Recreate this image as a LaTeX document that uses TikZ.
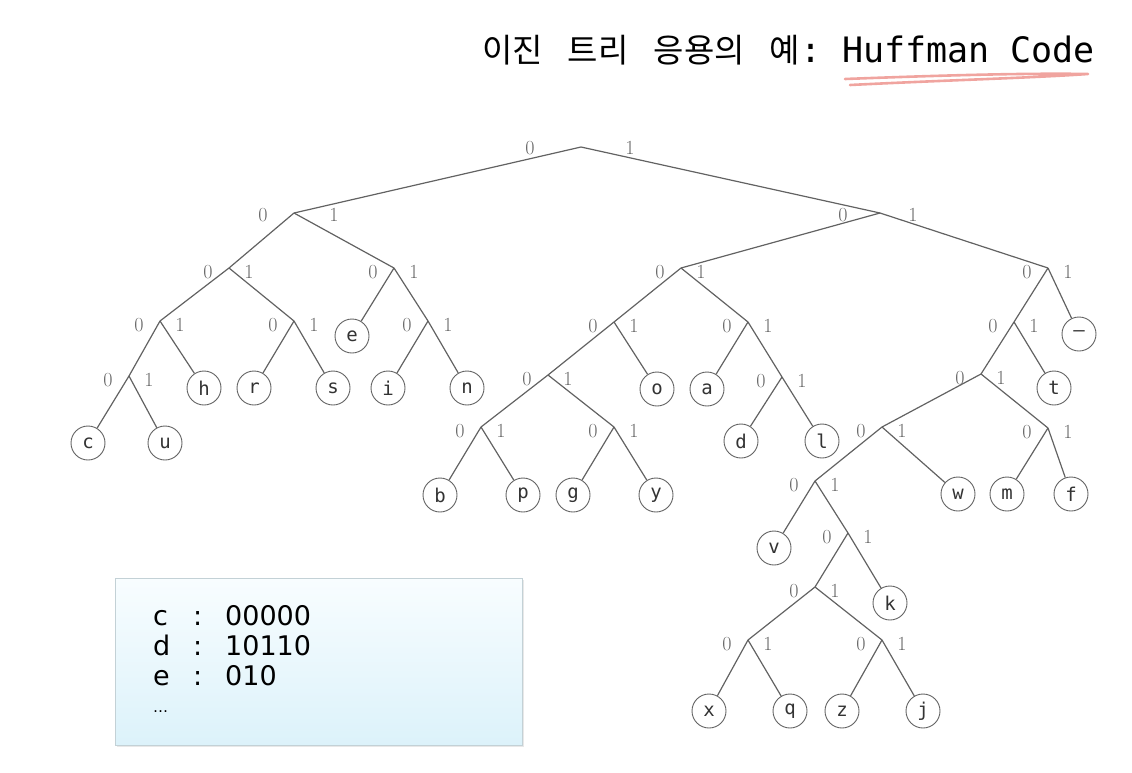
\documentclass[tikz,border=0pt]{standalone}
\usepackage{fontspec}
\setmonofont{DejaVu Sans Mono}
\newfontfamily\korfont{Noto Sans CJK KR}
\newfontfamily\boxfont{DejaVu Sans}
\usetikzlibrary{shadows}

\definecolor{edgegray}{HTML}{626262}
\definecolor{bitgray}{HTML}{666666}
\definecolor{boxtop}{HTML}{F8FDFF}
\definecolor{boxbottom}{HTML}{DCF2FA}
\definecolor{boxline}{HTML}{C3D1D6}
\definecolor{penpink}{HTML}{F0A49F}

\tikzset{
  leaf/.style={circle, draw=edgegray, line width=0.9pt, minimum size=34pt,
    inner sep=0pt, text=black!80, font=\ttfamily\fontsize{19}{19}\selectfont},
  edge/.style={draw=edgegray, line width=1.2pt},
  bit/.style={text=bitgray, inner sep=0pt, font=\fontsize{20}{20}\selectfont},
  codebox/.style={draw=boxline, line width=0.8pt, top color=boxtop,
    bottom color=boxbottom,
    drop shadow={opacity=0.18, shadow xshift=1.5pt, shadow yshift=-2pt}},
  codeline/.style={anchor=base west, inner sep=0pt,
    font=\boxfont\fontsize{27}{27}\selectfont},
}

\begin{document}
\begin{tikzpicture}[x=1pt, y=-1pt]
\useasboundingbox (0,0) rectangle (1132,772);

% title
\node[anchor=base west, inner sep=0pt] (title) at (482,62)
  {\korfont\fontsize{33}{33}\selectfont 이진\hspace{25pt}트리\hspace{25pt}응용의\hspace{25pt}예\ttfamily\fontsize{35}{35}\selectfont: Huffman Code};
\draw[penpink, line width=2.6pt, line cap=round, line join=round]
  (845,79) .. controls (950,75) and (1030,73) .. (1088,74)
  .. controls (1030,78) and (950,80) .. (850,85);

% inner nodes
\foreach \n/\x/\y in {r00/229/268, r01/394/268, r000/160/321, r001/294/321,
    r011/428/321, r0000/129/376, r10/681/268, r11/1048/268, r100/614/322,
    r101/748/322, r1000/548/375, r10000/481/427, r10001/614/427,
    r1011/782/377, r110/1014/322, r1100/981/374, r11000/882/427,
    r11001/1048/428, r110000/815/481, r1100001/848/533, r11000010/815/587,
    r110000100/748/640, r110000101/882/640} {
  \coordinate (\n) at (\x,\y);
  \path (\n) +(-21,4) node[bit] (\n-0) {0} +(20,4) node[bit] (\n-1) {1};
}
\coordinate (r) at (581,147);
\coordinate (r0) at (294,213);
\coordinate (r1) at (880,213);
\path (r) +(-51,1) node[bit] (r-0) {0} +(49,1) node[bit] (r-1) {1};
\path (r0) +(-31,2) node[bit] (r0-0) {0} +(40,2) node[bit] (r0-1) {1};
\path (r1) +(-37,2) node[bit] (r1-0) {0} +(33,2) node[bit] (r1-1) {1};

% leaves
\foreach \n/\x/\y in {c/88/443, u/165/443, h/204/388, r/254/388, s/333/388,
    e/352/336, i/388/388, n/467/388, b/440/495, p/523/495, g/573/495,
    y/656/495, o/657/389, a/707/389, d/741/441, l/822/441, t/1054/388,
    w/958/494, m/1007/494, f/1071/494, v/774/548, k/890/603, x/709/711,
    q/790/711, z/842/711, j/923/711}
  \node[leaf] (lf-\n) at (\x,\y) {\n};
\node[leaf] (lf-sp) at (1079,334) {—};

\foreach \a/\b in {r/r0, r/r1, r0/r00, r0/r01, r00/r000, r00/r001,
    r01/lf-e, r01/r011, r000/r0000, r000/lf-h, r0000/lf-c, r0000/lf-u,
    r001/lf-r, r001/lf-s, r011/lf-i, r011/lf-n, r1/r10, r1/r11, r10/r100,
    r10/r101, r100/r1000, r100/lf-o, r1000/r10000, r1000/r10001,
    r10000/lf-b, r10000/lf-p, r10001/lf-g, r10001/lf-y, r101/lf-a,
    r101/r1011, r1011/lf-d, r1011/lf-l, r11/r110, r11/lf-sp, r110/r1100,
    r110/lf-t, r1100/r11000, r1100/r11001, r11000/r110000, r11000/lf-w,
    r110000/lf-v, r110000/r1100001, r1100001/r11000010, r1100001/lf-k,
    r11000010/r110000100, r11000010/r110000101, r110000100/lf-x,
    r110000100/lf-q, r110000101/lf-z, r110000101/lf-j, r11001/lf-m,
    r11001/lf-f}
  \draw[edge] (\a) -- (\b);

% code table
\node[codebox, anchor=north west, minimum width=407pt, minimum height=167pt]
  (codes) at (115,578) {};
\foreach \k/\v [count=\i] in {c/00000, d/10110, e/010}
  \node[codeline] (code-\k) at (153,595+30*\i)
    {\makebox[40pt][l]{\k}\makebox[32pt][l]{:}\v};
\node[codeline, font=\boxfont\fontsize{15}{15}\selectfont] (code-more)
  at (153,712) {…};
\end{tikzpicture}
\end{document}
